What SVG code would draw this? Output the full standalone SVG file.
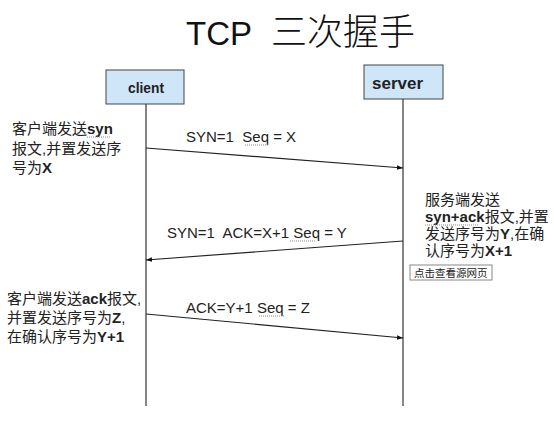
<svg xmlns="http://www.w3.org/2000/svg" width="554" height="423" viewBox="0 0 554 423">
<defs>
<style>
.t{font-family:"Liberation Sans","Noto Sans CJK SC",sans-serif;font-size:15px;fill:#222;white-space:pre}
.b{font-weight:bold}
.box{fill:#cfe6f8;stroke:#444;stroke-width:1}
.life{stroke:#333;stroke-width:1.2;fill:none}
.msg{stroke:#222;stroke-width:1.2;fill:none;marker-end:url(#ah)}
.dot{stroke:#888;stroke-width:1;stroke-dasharray:1 1}
</style>
<marker id="ah" viewBox="0 0 8 6" refX="8" refY="3" markerWidth="6" markerHeight="5" orient="auto" markerUnits="userSpaceOnUse">
<path d="M0,0 L8,3 L0,6 z" fill="#111"/>
</marker>
</defs>
<rect width="554" height="423" fill="#fff"/>
<text x="186" y="45" font-family="Liberation Sans,Noto Sans CJK SC,sans-serif" fill="#111"><tspan font-size="33">TCP</tspan><tspan x="271" font-size="36" font-family="Noto Sans CJK SC,sans-serif" font-weight="300">三次握手</tspan></text>
<g id="client">
<rect class="box" x="106" y="70" width="78" height="34"/>
<text class="t b" x="128" y="93" font-size="16" textLength="36" lengthAdjust="spacingAndGlyphs">client</text>
</g>
<g id="server">
<rect class="box" x="364" y="65" width="79" height="34"/>
<text class="t b" x="372" y="89" style="font-size:16px" textLength="51" lengthAdjust="spacingAndGlyphs">server</text>
</g>
<g id="connectors">
<line class="life" x1="146" y1="104" x2="146" y2="406"/>
<line class="life" x1="403" y1="99" x2="403" y2="406"/>
<line class="msg" x1="146" y1="148" x2="403" y2="168"/>
<line class="msg" x1="403" y1="241" x2="146" y2="260"/>
<line class="msg" x1="146" y1="314" x2="403" y2="338"/>
</g>
<g id="labels">
<text class="t" x="186" y="142">SYN=1  Seq = X</text>
<line class="dot" x1="245" y1="145" x2="269" y2="145"/>
<text class="t" x="167" y="238">SYN=1  ACK=X+1 Seq = Y</text>
<line class="dot" x1="290" y1="241" x2="315" y2="241"/>
<text class="t" x="186" y="313">ACK=Y+1 Seq = Z</text>
<line class="dot" x1="259" y1="316" x2="285" y2="316"/>
</g>
<g id="note-client-syn">
<text class="t" x="12" y="134">客户端发送<tspan class="b">syn</tspan></text>
<line class="dot" x1="87" y1="137" x2="110" y2="137"/>
<text class="t" x="12" y="154">报文,并置发送序</text>
<text class="t" x="12" y="173">号为<tspan class="b">X</tspan></text>
</g>
<g id="note-server">
<text class="t" x="425" y="205">服务端发送</text>
<text class="t" x="425" y="222"><tspan class="b">syn+ack</tspan>报文,并置</text>
<line class="dot" x1="425" y1="225" x2="479" y2="225"/>
<text class="t" x="425" y="239">发送序号为<tspan class="b">Y</tspan>,在确</text>
<text class="t" x="425" y="256">认序号为<tspan class="b">X+1</tspan></text>
<rect x="410" y="265" width="82" height="15" fill="#fff" stroke="#888" stroke-width="1"/>
<text x="414" y="277" font-family="Noto Sans CJK SC,sans-serif" font-size="10.5" fill="#222">点击查看源网页</text>
</g>
<g id="note-client-ack">
<text class="t" x="7" y="304">客户端发送<tspan class="b">ack</tspan>报文,</text>
<text class="t" x="7" y="323">并置发送序号为<tspan class="b">Z</tspan>,</text>
<text class="t" x="7" y="342">在确认序号为<tspan class="b">Y+1</tspan></text>
</g>
</svg>
